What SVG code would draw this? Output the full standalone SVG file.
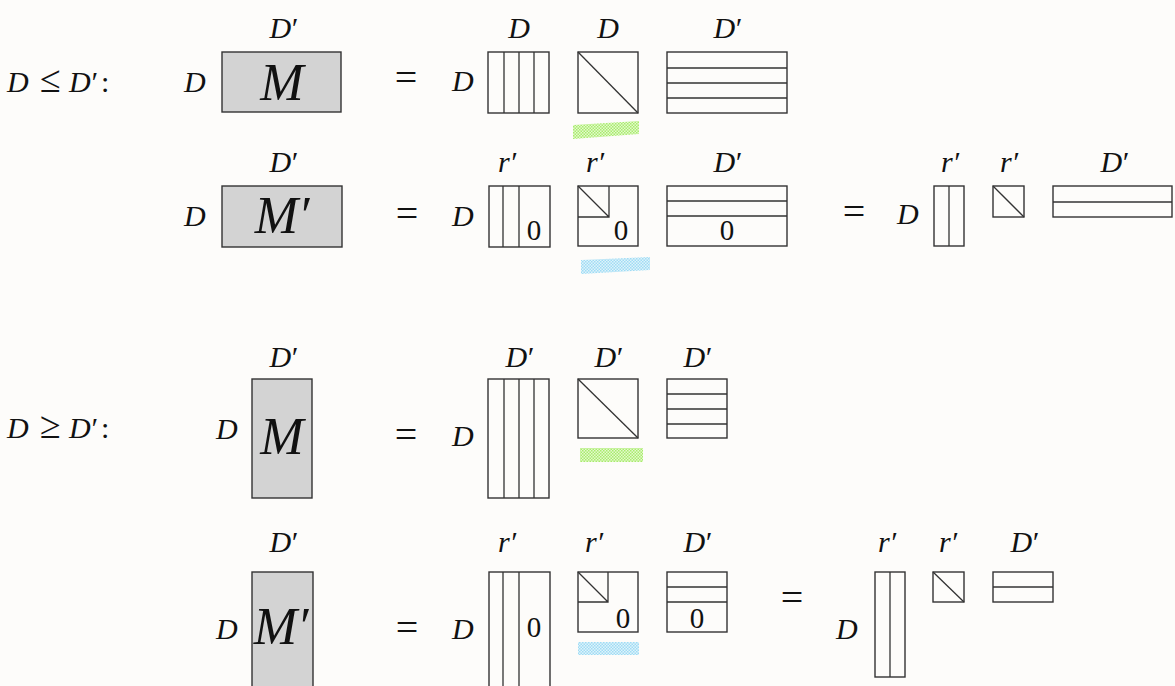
<svg xmlns="http://www.w3.org/2000/svg" width="1175" height="686" viewBox="0 0 1175 686">
<defs>
<pattern id="pg" patternUnits="userSpaceOnUse" width="3" height="3"><rect width="3" height="3" fill="#e4f9cf"/><rect width="1.5" height="1.5" fill="#a8ec6c"/><rect x="1.5" y="1.5" width="1.5" height="1.5" fill="#a8ec6c"/></pattern>
<pattern id="pb" patternUnits="userSpaceOnUse" width="3" height="3"><rect width="3" height="3" fill="#dff3fb"/><rect width="1.5" height="1.5" fill="#9fdcf4"/><rect x="1.5" y="1.5" width="1.5" height="1.5" fill="#9fdcf4"/></pattern>
</defs>
<style>
.t{font-family:"Liberation Serif","DejaVu Serif",serif;font-style:italic;font-size:30px;fill:#111}
.c{text-anchor:middle}
.big{font-family:"Liberation Serif","DejaVu Serif",serif;font-style:italic;font-size:52px;fill:#111;text-anchor:middle}
.n{font-family:"Liberation Serif","DejaVu Serif",serif;font-size:29px;fill:#111;text-anchor:middle}
.eq{font-family:"Liberation Serif","DejaVu Serif",serif;font-size:40px;fill:#111;text-anchor:middle}
.up{font-style:normal}
.rel{font-style:normal;font-size:38px}
.b{fill:none;stroke:#333;stroke-width:1.4}
.g{fill:#d3d3d3;stroke:#333;stroke-width:1.4}
.l{stroke:#333;stroke-width:1.3;fill:none}
</style>
<rect width="1175" height="686" fill="#fdfcfa"/>

<!-- Row 1 -->
<g id="cond1">
<text class="t" y="92"><tspan x="7">D</tspan><tspan x="40" class="rel">≤</tspan><tspan x="69">D</tspan><tspan dx="-1">′</tspan><tspan x="101" class="up">:</tspan></text>
</g>
<g id="r1-M">
<text class="t c" x="283" y="38">D<tspan dx="-1">′</tspan></text>
<text class="t" x="184" y="92">D</text>
<rect class="g" x="222" y="52" width="119" height="60"/>
<text class="big" x="282" y="100">M</text>
</g>
<text class="eq" x="406" y="91">=</text>
<g id="r1-U">
<text class="t" x="452" y="91">D</text>
<text class="t c" x="519" y="38">D</text>
<rect class="b" x="488" y="52" width="61" height="61"/>
<path class="l" d="M504 52V113M519 52V113M534 52V113"/>
</g>
<g id="r1-S">
<text class="t c" x="608" y="38">D</text>
<rect class="b" x="578" y="52" width="60" height="61"/>
<path class="l" d="M578 52L638 113"/>
<polygon points="573,125 639,121 639,134 573,139" fill="url(#pg)"/>
</g>
<g id="r1-V">
<text class="t c" x="727" y="38">D<tspan dx="-1">′</tspan></text>
<rect class="b" x="667" y="52" width="120" height="61"/>
<path class="l" d="M667 68H787M667 83H787M667 98H787"/>
</g>

<!-- Row 2 -->
<g id="r2-M">
<text class="t c" x="283" y="172">D<tspan dx="-1">′</tspan></text>
<text class="t" x="184" y="226">D</text>
<rect class="g" x="222" y="186" width="120" height="61"/>
<text class="big" x="282" y="233">M′</text>
</g>
<text class="eq" x="407" y="227">=</text>
<g id="r2-U">
<text class="t" x="452" y="226">D</text>
<text class="t c" x="507" y="172">r′</text>
<rect class="b" x="489" y="186" width="61" height="61"/>
<path class="l" d="M503 186V247M519 186V247"/>
<text class="n" x="534" y="240">0</text>
</g>
<g id="r2-S">
<text class="t c" x="595" y="172">r′</text>
<rect class="b" x="578" y="186" width="60" height="60"/>
<path class="l" d="M578 217H609V186M578 186L609 217"/>
<text class="n" x="621" y="240">0</text>
<polygon points="581,260 650,257 650,270 581,274" fill="url(#pb)"/>
</g>
<g id="r2-V">
<text class="t c" x="727" y="172">D<tspan dx="-1">′</tspan></text>
<rect class="b" x="667" y="186" width="120" height="60"/>
<path class="l" d="M667 201H787M667 216H787"/>
<text class="n" x="727" y="240">0</text>
</g>
<text class="eq" x="854" y="225">=</text>
<g id="r2-Ur">
<text class="t" x="897" y="224">D</text>
<text class="t c" x="950" y="172">r′</text>
<rect class="b" x="934" y="186" width="30" height="60"/>
<path class="l" d="M949 186V246"/>
</g>
<g id="r2-Sr">
<text class="t c" x="1009" y="172">r′</text>
<rect class="b" x="993" y="186" width="31" height="31"/>
<path class="l" d="M993 186L1024 217"/>
</g>
<g id="r2-Vr">
<text class="t c" x="1114" y="172">D<tspan dx="-1">′</tspan></text>
<rect class="b" x="1053" y="186" width="119" height="31"/>
<path class="l" d="M1053 202H1172"/>
</g>

<!-- Row 3 -->
<g id="cond2">
<text class="t" y="438"><tspan x="7">D</tspan><tspan x="40" class="rel">≥</tspan><tspan x="69">D</tspan><tspan dx="-1">′</tspan><tspan x="101" class="up">:</tspan></text>
</g>
<g id="r3-M">
<text class="t c" x="283" y="367">D<tspan dx="-1">′</tspan></text>
<text class="t" x="216" y="439">D</text>
<rect class="g" x="252" y="379" width="60" height="119"/>
<text class="big" x="282" y="454">M</text>
</g>
<text class="eq" x="406" y="448">=</text>
<g id="r3-U">
<text class="t" x="452" y="446">D</text>
<text class="t c" x="519" y="367">D<tspan dx="-1">′</tspan></text>
<rect class="b" x="488" y="379" width="61" height="119"/>
<path class="l" d="M504 379V498M519 379V498M534 379V498"/>
</g>
<g id="r3-S">
<text class="t c" x="608" y="367">D<tspan dx="-1">′</tspan></text>
<rect class="b" x="578" y="379" width="60" height="59"/>
<path class="l" d="M578 379L638 438"/>
<rect x="580" y="448" width="63" height="14" fill="url(#pg)"/>
</g>
<g id="r3-V">
<text class="t c" x="697" y="367">D<tspan dx="-1">′</tspan></text>
<rect class="b" x="667" y="379" width="60" height="59"/>
<path class="l" d="M667 394H727M667 409H727M667 424H727"/>
</g>

<!-- Row 4 -->
<g id="r4-M">
<text class="t c" x="283" y="552">D<tspan dx="-1">′</tspan></text>
<text class="t" x="216" y="639">D</text>
<rect class="g" x="252" y="572" width="61" height="130"/>
<text class="big" x="281" y="644">M′</text>
</g>
<text class="eq" x="407" y="641">=</text>
<g id="r4-U">
<text class="t" x="452" y="639">D</text>
<text class="t c" x="507" y="552">r′</text>
<rect class="b" x="489" y="572" width="61" height="130"/>
<path class="l" d="M503 572V702M519 572V702"/>
<text class="n" x="534" y="637">0</text>
</g>
<g id="r4-S">
<text class="t c" x="594" y="552">r′</text>
<rect class="b" x="578" y="572" width="60" height="60"/>
<path class="l" d="M578 602H608V572M578 572L608 602"/>
<text class="n" x="623" y="628">0</text>
<rect x="578" y="642" width="61" height="13" fill="url(#pb)"/>
</g>
<g id="r4-V">
<text class="t c" x="697" y="552">D<tspan dx="-1">′</tspan></text>
<rect class="b" x="667" y="572" width="60" height="60"/>
<path class="l" d="M667 587H727M667 602H727"/>
<text class="n" x="697" y="628">0</text>
</g>
<text class="eq" x="792" y="611">=</text>
<g id="r4-Ur">
<text class="t" x="836" y="639">D</text>
<text class="t c" x="887" y="552">r′</text>
<rect class="b" x="875" y="572" width="30" height="105"/>
<path class="l" d="M890 572V677"/>
</g>
<g id="r4-Sr">
<text class="t c" x="948" y="552">r′</text>
<rect class="b" x="933" y="572" width="31" height="30"/>
<path class="l" d="M933 572L964 602"/>
</g>
<g id="r4-Vr">
<text class="t c" x="1024" y="552">D<tspan dx="-1">′</tspan></text>
<rect class="b" x="993" y="572" width="60" height="30"/>
<path class="l" d="M993 587H1053"/>
</g>
</svg>
